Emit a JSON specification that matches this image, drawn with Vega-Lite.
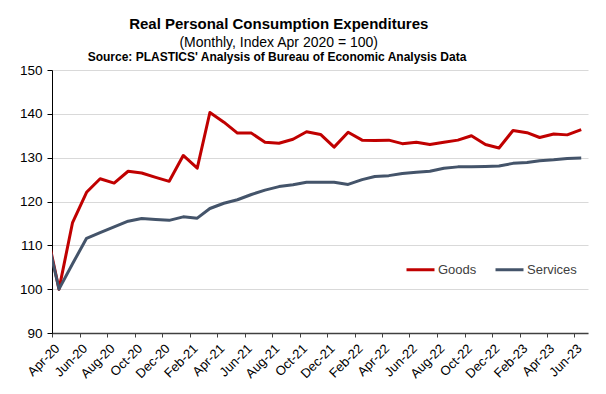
{
  "$schema": "https://vega.github.io/schema/vega-lite/v6.json",
  "background": "white",
  "padding": {"left": 19, "top": 17, "right": 19, "bottom": 16},
  "title": {
    "text": "Real Personal Consumption Expenditures",
    "subtitle": "(Monthly, Index Apr 2020 = 100)",
    "fontSize": 15,
    "fontWeight": "bold",
    "subtitleFontSize": 14,
    "subtitleFontWeight": "normal",
    "subtitleColor": "#000000",
    "subtitlePadding": 4,
    "color": "#000000",
    "anchor": "middle",
    "dx": -25,
    "offset": 1
  },
  "config": {
    "font": "Liberation Sans",
    "title": {"font": "Liberation Sans", "subtitleFont": "Liberation Sans"},
    "view": {"stroke": null},
    "axis": {"labelFont": "Liberation Sans", "titleFont": "Liberation Sans"},
    "legend": {"labelFont": "Liberation Sans"}
  },
  "vconcat": [
    {
      "width": 536,
      "height": 263,
      "title": {
        "text": "Source: PLASTICS' Analysis of Bureau of Economic Analysis Data",
        "fontSize": 12,
        "fontWeight": "bold",
        "color": "#000000",
        "anchor": "middle",
        "dx": -43,
        "offset": -1
      },
      "data": {
        "values": [
          {"month": "2020/03/01", "Goods": 115.0, "Services": 114.0},
          {"month": "2020/04/01", "Goods": 100.0, "Services": 100.0},
          {"month": "2020/05/01", "Goods": 115.2, "Services": 105.8},
          {"month": "2020/06/01", "Goods": 122.1, "Services": 111.6},
          {"month": "2020/07/01", "Goods": 125.2, "Services": 112.9},
          {"month": "2020/08/01", "Goods": 124.2, "Services": 114.2},
          {"month": "2020/09/01", "Goods": 126.9, "Services": 115.5},
          {"month": "2020/10/01", "Goods": 126.5, "Services": 116.1},
          {"month": "2020/11/01", "Goods": 125.5, "Services": 115.9},
          {"month": "2020/12/01", "Goods": 124.6, "Services": 115.7},
          {"month": "2021/01/01", "Goods": 130.5, "Services": 116.5},
          {"month": "2021/02/01", "Goods": 127.6, "Services": 116.2},
          {"month": "2021/03/01", "Goods": 140.3, "Services": 118.4},
          {"month": "2021/04/01", "Goods": 138.1, "Services": 119.6},
          {"month": "2021/05/01", "Goods": 135.6, "Services": 120.4},
          {"month": "2021/06/01", "Goods": 135.6, "Services": 121.6},
          {"month": "2021/07/01", "Goods": 133.5, "Services": 122.6},
          {"month": "2021/08/01", "Goods": 133.3, "Services": 123.4},
          {"month": "2021/09/01", "Goods": 134.2, "Services": 123.8},
          {"month": "2021/10/01", "Goods": 135.9, "Services": 124.4},
          {"month": "2021/11/01", "Goods": 135.3, "Services": 124.4},
          {"month": "2021/12/01", "Goods": 132.4, "Services": 124.4},
          {"month": "2022/01/01", "Goods": 135.8, "Services": 123.9},
          {"month": "2022/02/01", "Goods": 134.0, "Services": 125.0},
          {"month": "2022/03/01", "Goods": 133.9, "Services": 125.7},
          {"month": "2022/04/01", "Goods": 134.0, "Services": 125.9},
          {"month": "2022/05/01", "Goods": 133.2, "Services": 126.4},
          {"month": "2022/06/01", "Goods": 133.5, "Services": 126.7},
          {"month": "2022/07/01", "Goods": 133.0, "Services": 126.9},
          {"month": "2022/08/01", "Goods": 133.5, "Services": 127.6},
          {"month": "2022/09/01", "Goods": 134.0, "Services": 127.9},
          {"month": "2022/10/01", "Goods": 135.0, "Services": 127.9},
          {"month": "2022/11/01", "Goods": 133.0, "Services": 128.0},
          {"month": "2022/12/01", "Goods": 132.2, "Services": 128.1},
          {"month": "2023/01/01", "Goods": 136.2, "Services": 128.7},
          {"month": "2023/02/01", "Goods": 135.7, "Services": 128.9},
          {"month": "2023/03/01", "Goods": 134.6, "Services": 129.3},
          {"month": "2023/04/01", "Goods": 135.4, "Services": 129.5},
          {"month": "2023/05/01", "Goods": 135.2, "Services": 129.8},
          {"month": "2023/06/01", "Goods": 136.4, "Services": 129.9}
        ]
      },
      "transform": [{"fold": ["Goods", "Services"], "as": ["series", "value"]}],
      "mark": {"type": "line", "strokeWidth": 3, "clip": true, "strokeJoin": "round"},
      "encoding": {
        "x": {
          "field": "month",
          "type": "temporal",
          "scale": {
            "domain": [
              {"year": 2020, "month": 3, "date": 16, "hours": 12},
              {"year": 2023, "month": 6, "date": 16}
            ]
          },
          "axis": {
            "title": null,
            "grid": false,
            "format": "%b-%y",
            "values": [
              {"year": 2020, "month": 4, "date": 1},
              {"year": 2020, "month": 6, "date": 1},
              {"year": 2020, "month": 8, "date": 1},
              {"year": 2020, "month": 10, "date": 1},
              {"year": 2020, "month": 12, "date": 1},
              {"year": 2021, "month": 2, "date": 1},
              {"year": 2021, "month": 4, "date": 1},
              {"year": 2021, "month": 6, "date": 1},
              {"year": 2021, "month": 8, "date": 1},
              {"year": 2021, "month": 10, "date": 1},
              {"year": 2021, "month": 12, "date": 1},
              {"year": 2022, "month": 2, "date": 1},
              {"year": 2022, "month": 4, "date": 1},
              {"year": 2022, "month": 6, "date": 1},
              {"year": 2022, "month": 8, "date": 1},
              {"year": 2022, "month": 10, "date": 1},
              {"year": 2022, "month": 12, "date": 1},
              {"year": 2023, "month": 2, "date": 1},
              {"year": 2023, "month": 4, "date": 1},
              {"year": 2023, "month": 6, "date": 1}
            ],
            "labelAngle": -45,
            "labelAlign": "right",
            "labelBaseline": "middle",
            "labelFontSize": 13,
            "labelColor": "#000000",
            "labelPadding": 9,
            "labelOverlap": false,
            "labelFlush": false,
            "tickOffset": -6.87,
            "labelOffset": 5,
            "tickSize": 4,
            "tickColor": "#404040",
            "domainColor": "#404040",
            "domainWidth": 1.5
          }
        },
        "y": {
          "field": "value",
          "type": "quantitative",
          "scale": {"domain": [90, 150], "nice": false, "zero": false},
          "axis": {
            "title": null,
            "values": [90, 100, 110, 120, 130, 140, 150],
            "grid": true,
            "gridColor": "#d9d9d9",
            "gridWidth": 1,
            "labelFontSize": 13.5,
            "labelColor": "#000000",
            "labelPadding": 5,
            "tickSize": 5,
            "tickColor": "#000000",
            "domainColor": "#000000",
            "domainWidth": 1
          }
        },
        "color": {
          "field": "series",
          "type": "nominal",
          "scale": {"domain": ["Goods", "Services"], "range": ["#C00000", "#44546A"]},
          "legend": {
            "title": null,
            "orient": "none",
            "direction": "horizontal",
            "legendX": 353,
            "legendY": 184,
            "symbolType": "stroke",
            "symbolSize": 784,
            "symbolStrokeWidth": 3,
            "labelFontSize": 13,
            "labelColor": "#404040",
            "labelOffset": 2,
            "columnPadding": 12
          }
        }
      }
    }
  ]
}
